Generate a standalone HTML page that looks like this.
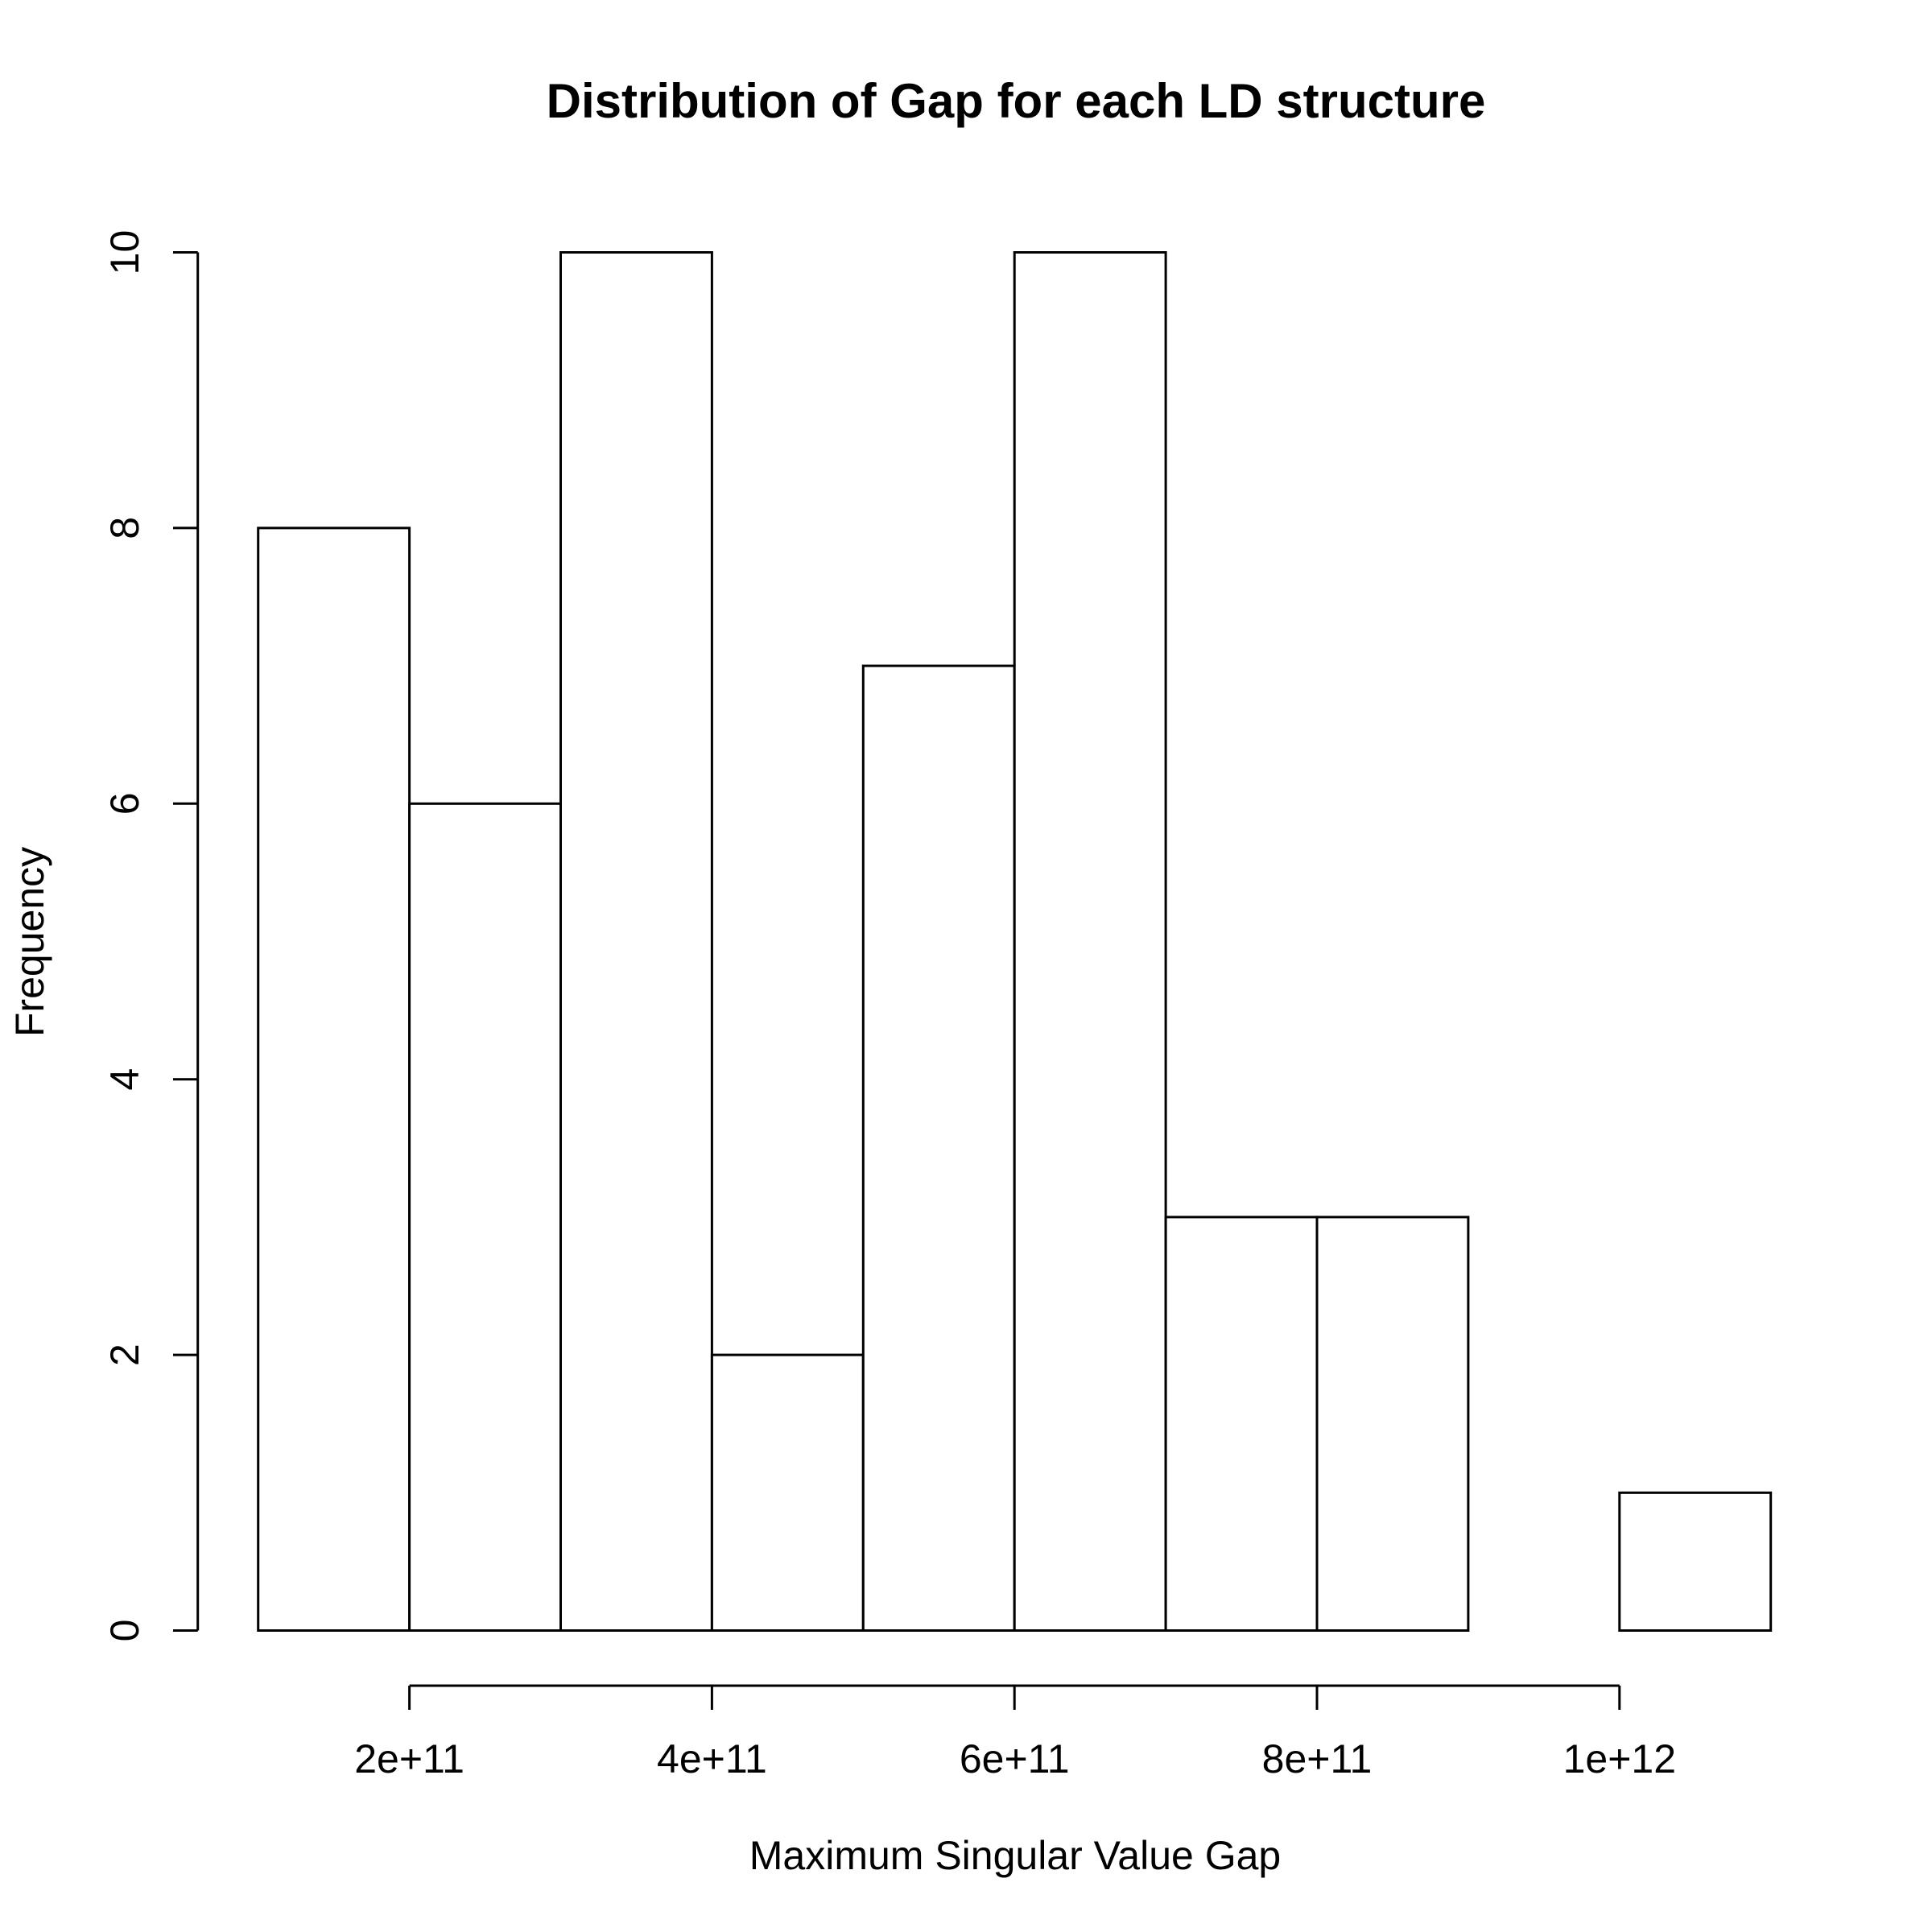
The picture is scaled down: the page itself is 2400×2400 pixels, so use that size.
<!DOCTYPE html>
<html><head><meta charset="utf-8"><style>
html,body{margin:0;padding:0;background:#fff;}
svg{display:block;font-family:"Liberation Sans",sans-serif;}
</style></head><body>
<svg id="chart" width="2400" height="2400" viewBox="0 0 2400 2400">
<rect width="2400" height="2400" fill="#fff"/>
<text x="1262" y="146" text-anchor="middle" font-size="60" font-weight="bold">Distribution of Gap for each LD structure</text>
<text x="1261" y="2322" text-anchor="middle" font-size="50">Maximum Singular Value Gap</text>
<text transform="translate(54,1170) rotate(-90)" text-anchor="middle" font-size="50">Frequency</text>
<g id="bars"></g>
<g id="yaxis"></g>
<g id="xaxis"></g>
</svg>
<script>
const binStarts = [1e11, 2e11, 3e11, 4e11, 5e11, 6e11, 7e11, 8e11, 9e11, 1e12];
const counts = [8, 6, 10, 2, 7, 10, 3, 3, 0, 1];
const binWidth = 1e11;
const xTicks = [2e11, 4e11, 6e11, 8e11, 1e12];
const xTickLabels = ["2e+11", "4e+11", "6e+11", "8e+11", "1e+12"];
const yTicks = [0, 2, 4, 6, 8, 10];

const NS = "http://www.w3.org/2000/svg";
function xs(v){ return 320.7 + (v - 1e11) / 1e11 * 187.9; }
function ys(v){ return 2025.5 - v * 171.2; }
function mk(tag, attrs, parent){
  const e = document.createElementNS(NS, tag);
  for (const k in attrs) e.setAttribute(k, attrs[k]);
  parent.appendChild(e); return e;
}
const barsG = document.getElementById('bars');
binStarts.forEach((b, i) => {
  const x0 = xs(b), x1 = xs(b + binWidth), y0 = ys(0), y1 = ys(counts[i]);
  const r = mk('rect', {x: x0, y: y1, width: x1 - x0, height: y0 - y1, fill: '#fff', stroke: '#000', 'stroke-width': 3}, barsG);
  
  
});
const yG = document.getElementById('yaxis');
const yl = mk('line', {x1: 245.7, x2: 245.7, y1: ys(yTicks[0]), y2: ys(yTicks[yTicks.length - 1]), stroke: '#000', 'stroke-width': 3}, yG);


yTicks.forEach(t => {
  const tk = mk('line', {x1: 215, x2: 245.7, y1: ys(t), y2: ys(t), stroke: '#000', 'stroke-width': 3}, yG);
  
  
  const tx = mk('text', {transform: 'translate(172,' + ys(t) + ') rotate(-90)', 'text-anchor': 'middle', 'font-size': 50}, yG);
  tx.textContent = String(t);
  
  
});
const xG = document.getElementById('xaxis');
const xl = mk('line', {x1: xs(xTicks[0]), x2: xs(xTicks[xTicks.length - 1]), y1: 2094, y2: 2094, stroke: '#000', 'stroke-width': 3}, xG);


xTicks.forEach((t, i) => {
  const tk = mk('line', {x1: xs(t), x2: xs(t), y1: 2094, y2: 2124, stroke: '#000', 'stroke-width': 3}, xG);
  
  
  const tx = mk('text', {x: xs(t), y: 2202, 'text-anchor': 'middle', 'font-size': 50}, xG);
  tx.textContent = xTickLabels[i];
  
  
});
</script>
</body></html>
